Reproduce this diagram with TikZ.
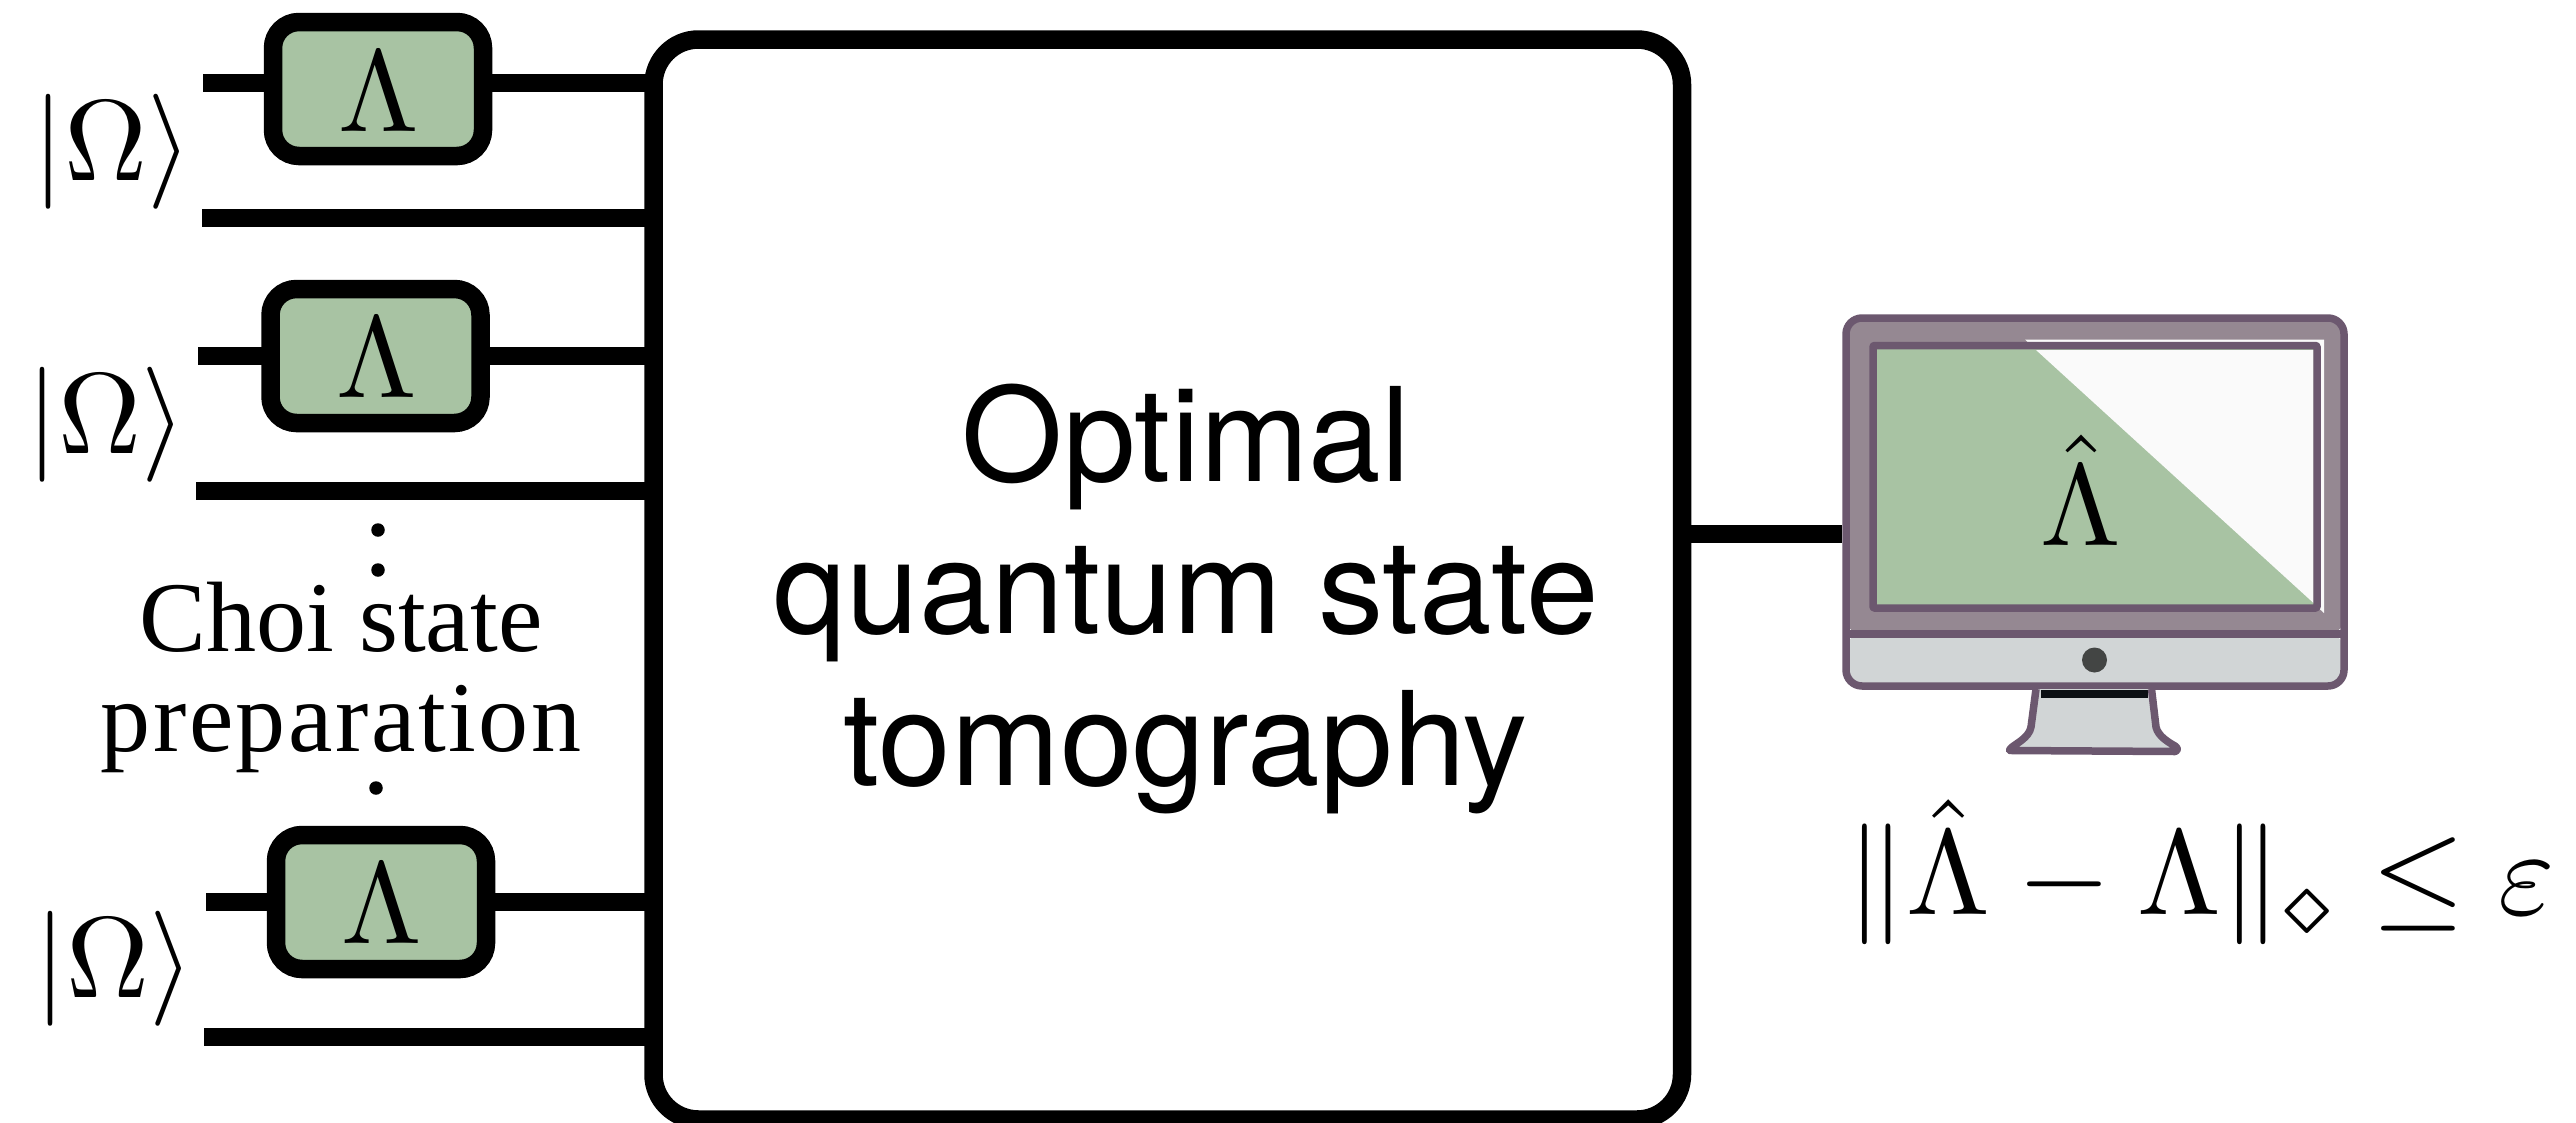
\documentclass[tikz,border=0pt]{standalone}
\usetikzlibrary{shapes.geometric}
\usepackage{amsmath}
\usepackage{fontspec}
\setmainfont{Liberation Serif}
\newfontfamily\helv{TeX Gyre Heros}
\definecolor{boxgreen}{HTML}{A8C3A3}
\definecolor{monframe}{HTML}{6C586F}
\definecolor{monface}{HTML}{958892}
\definecolor{monbase}{HTML}{D1D5D6}
\definecolor{moncam}{HTML}{434544}
\definecolor{monband}{HTML}{0C1014}
\definecolor{monwhite}{HTML}{FAFAFA}
\tikzset{
  x=1pt,y=-1pt,
  wire/.style={line width=18.5pt,black},
  chan/.style={draw=black,line width=18.5pt,fill=boxgreen,rounded corners=26pt,inner sep=0pt,outer sep=0pt,minimum width=210pt,minimum height=134pt},
  mainbox/.style={draw=black,line width=18.5pt,fill=white,rounded corners=45pt,inner sep=0pt,outer sep=0pt},
  sym/.style={inner sep=0pt,outer sep=0pt,scale=11.5},
  lam/.style={inner sep=0pt,outer sep=0pt,scale=11.6},
  vdot/.style={circle,fill=black,inner sep=0pt,minimum size=13.5pt},
  monline/.style={draw=monframe,line width=7.5pt,line join=round},
}
\begin{document}
\begin{tikzpicture}
\useasboundingbox (0,0) rectangle (2576,1122);
\node[mainbox,minimum width=1028.5pt,minimum height=1080pt] (main) at (1167.75,579.5) {};
\coordinate (a1) at (203,83);
\coordinate (a2) at (202,218);
\coordinate (a3) at (198,356);
\coordinate (a4) at (196,491);
\coordinate (a5) at (206,902);
\coordinate (a6) at (204,1037);
\node[chan] (b1) at (378,89) {};
\node[chan] (b2) at (375.5,356) {};
\node[chan] (b3) at (381,902) {};
\draw[wire] (a1) -- (a1 -| b1.west);
\draw[wire] (a1 -| b1.east) -- (a1 -| main.west);
\draw[wire] (a2) -- (a2 -| main.west);
\draw[wire] (a3) -- (a3 -| b2.west);
\draw[wire] (a3 -| b2.east) -- (a3 -| main.west);
\draw[wire] (a4) -- (a4 -| main.west);
\draw[wire] (a5) -- (a5 -| b3.west);
\draw[wire] (a5 -| b3.east) -- (a5 -| main.west);
\draw[wire] (a6) -- (a6 -| main.west);
\node[lam,anchor=base] (l1) at (379,131) {$\Lambda$};
\node[lam,anchor=base] (l2) at (377,397) {$\Lambda$};
\node[lam,anchor=base] (l3) at (382,943) {$\Lambda$};
\node[sym,anchor=base] (k1) at (112,180) {$|\Omega\rangle$};
\node[sym,anchor=base] (k2) at (106,453) {$|\Omega\rangle$};
\node[sym,anchor=base] (k3) at (114,997) {$|\Omega\rangle$};
\node[vdot] (d1) at (378,530) {};
\node[vdot] (d2) at (378,570) {};
\node[vdot] (d3) at (376,788) {};
\node[inner sep=0pt,align=center,anchor=base,font=\fontsize{100}{100}\selectfont] (choi) at (341,751) {Choi state\\{\addfontfeatures{LetterSpace=2.5}preparation}};
\node[inner sep=0pt,align=center,anchor=base,font=\helv\fontsize{130.5}{152}\selectfont] (title) at (1186,785) {Optimal\\quantum state\\tomography};
% monitor
\path[fill=monface,rounded corners=16pt] (1846,634) -- (1846,318) -- (2344,318) -- (2344,634) -- cycle;
\path[fill=monbase,rounded corners=16pt] (1846,634) -- (1846,686) -- (2344,686) -- (2344,634) -- cycle;
\draw[monline,rounded corners=16pt] (1846,634) -- (1846,318) -- (2344,318) -- (2344,634) -- (2344,686) -- (1846,686) -- cycle;
\draw[monline] (1846,634) -- (2344,634);
\path[fill=monwhite] (2025,339.5) -- (2324,339.5) -- (2324,613) -- cycle;
\path[fill=boxgreen] (1873,345.5) rectangle (2317,608);
\path[fill=monwhite] (2036,350) -- (2313.5,350) -- (2313.5,603) -- cycle;
\draw[monline,rounded corners=1pt] (1873,345.5) rectangle (2317,608);
\path[fill=monbase] (2036,689) -- (2031,727) .. controls (2029,738) and (2018,743) .. (2011,750) -- (2177,750) .. controls (2170,743) and (2158,738) .. (2156,727) -- (2151.5,689) -- cycle;
\path[fill=monband] (2040.5,690) rectangle (2148,698);
\draw[monline] (2036,689) -- (2031,727) .. controls (2029,738) and (2015,744) .. (2011,748) .. controls (2009,750.5) and (2009,750.5) .. (2012,750.5) -- (2175,751.5) .. controls (2178,750.5) and (2178,748) .. (2175,746) .. controls (2168,742) and (2158,736) .. (2156,727) -- (2151.5,689);
\node[ellipse,fill=moncam,inner sep=0pt,minimum width=25pt,minimum height=25pt] (cam) at (2094.5,660) {};
\node[lam,anchor=base] (hat) at (2081,545) {$\hat\Lambda$};
\coordinate (monleft) at (1842,534);
\draw[wire] (monleft -| main.east) -- (monleft);
\node[sym,scale=1.05,anchor=base west] (norm) at (1846,914) {$\|\hat\Lambda-\Lambda\|_\diamond\leq\varepsilon$};
\end{tikzpicture}
\end{document}
